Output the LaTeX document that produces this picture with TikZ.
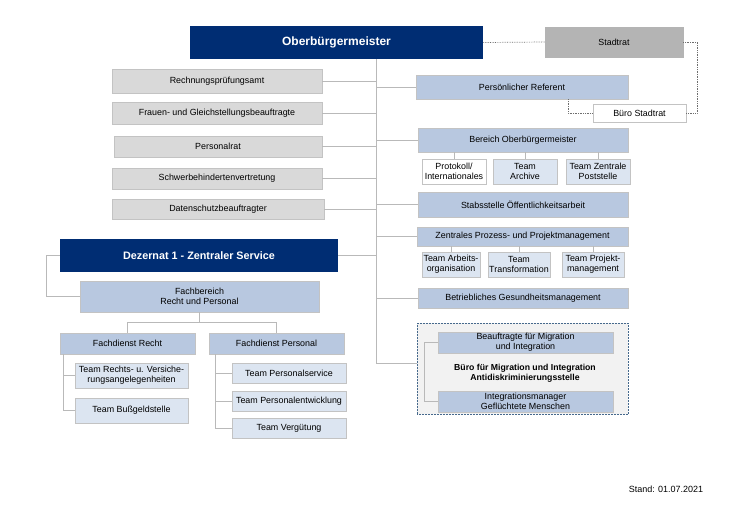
\documentclass[tikz,border=0pt]{standalone}
\usepackage{fontspec}
\setmainfont{Liberation Sans}
\definecolor{navy}{RGB}{0,45,115}
\definecolor{boxblue}{RGB}{184,200,224}
\definecolor{teamblue}{RGB}{220,229,241}
\definecolor{boxgrey}{RGB}{217,217,217}
\definecolor{stgrey}{RGB}{180,180,180}
\definecolor{linegrey}{RGB}{185,185,185}
\definecolor{edgegrey}{RGB}{195,195,195}
\definecolor{contfill}{RGB}{242,242,242}
\definecolor{contedge}{RGB}{70,105,140}
\definecolor{dotgrey}{RGB}{110,110,110}
\newcommand{\bx}[7]{\node[#1, minimum width={#5-#3}, minimum height={#6-#4}] (#2) at ({(#3+#5)/2},{(#4+#6)/2}) {#7};}
\begin{document}
\begin{tikzpicture}[x=1pt,y=-1pt,
  base/.style={inner sep=0pt, align=center, font=\fontsize{8.9}{10.2}\selectfont, line width=0.5pt},
  dark/.style={base, fill=navy, text=white},
  greybox/.style={base, fill=boxgrey, draw=edgegrey},
  stbox/.style={base, fill=stgrey, draw=stgrey},
  bluebox/.style={base, fill=boxblue, draw=edgegrey},
  teambox/.style={base, fill=teamblue, draw=edgegrey},
  whitebox/.style={base, fill=white, draw=edgegrey},
  contbox/.style={base, fill=contfill, draw=contedge, densely dotted, line width=0.8pt},
  conn/.style={draw=linegrey, line width=0.6pt},
  dotline/.style={draw=dotgrey, densely dotted, line width=0.7pt}]
\useasboundingbox[fill=white] (0,0) rectangle (740,523);
% container first (background)
\bx{contbox}{cont}{417}{323}{628}{414}{}
% top
\bx{dark, font=\fontsize{12}{14}\selectfont\bfseries}{ob}{190}{26}{483}{59}{Oberbürgermeister}
\bx{stbox}{st}{545}{27}{683}{57}{Stadtrat}
% left staff
\bx{greybox}{rp}{112}{69}{322}{93}{Rechnungsprüfungsamt}
\bx{greybox}{fg}{112}{102}{322}{124}{Frauen- und Gleichstellungsbeauftragte}
\bx{greybox}{pr}{114}{136}{322}{157}{Personalrat}
\bx{greybox}{sb}{112}{168}{322}{189}{Schwerbehindertenvertretung}
\bx{greybox}{ds}{112}{199}{324}{219}{Datenschutzbeauftragter}
% right
\bx{bluebox}{pref}{416}{75}{628}{99}{Persönlicher Referent}
\bx{whitebox}{bst}{593}{104}{686}{122}{Büro Stadtrat}
\bx{bluebox}{bob}{418}{128}{628}{152}{Bereich Oberbürgermeister}
\bx{whitebox}{prot}{422}{159}{486}{184}{Protokoll/\\Internationales}
\bx{teambox}{arch}{493}{159}{557}{184}{Team\\Archive}
\bx{teambox}{post}{566}{159}{630}{184}{Team Zentrale\\Poststelle}
\bx{bluebox}{stab}{418}{192}{628}{217}{Stabsstelle Öffentlichkeitsarbeit}
\bx{bluebox}{zpp}{417}{227}{628}{246}{Zentrales Prozess- und Projektmanagement}
\bx{teambox}{arb}{422}{252}{480}{277}{Team Arbeits-\\organisation}
\bx{teambox}{trans}{488}{252}{550}{277}{Team\\Transformation}
\bx{teambox}{proj}{562}{252}{624}{277}{Team Projekt-\\management}
\bx{bluebox}{bgm}{418}{288}{628}{308}{Betriebliches Gesundheitsmanagement}
\bx{bluebox}{bmi}{438}{332}{613}{353}{Beauftragte für Migration\\und Integration}
\bx{bluebox}{imgr}{438}{391}{613}{412}{Integrationsmanager\\Geflüchtete Menschen}
\node[base, font=\fontsize{8.7}{10.2}\selectfont\bfseries] (bmlabel) at (525,373) {Büro für Migration und Integration\\Antidiskriminierungsstelle};
% Dezernat
\bx{dark, font=\fontsize{10.8}{13}\selectfont\bfseries}{dez}{60}{239}{338}{272}{Dezernat 1 - Zentraler Service}
\bx{bluebox}{fb}{80}{281}{319}{312}{Fachbereich\\Recht und Personal}
\bx{bluebox}{fdr}{60}{333}{195}{354}{Fachdienst Recht}
\bx{bluebox}{fdp}{209}{333}{344}{354}{Fachdienst Personal}
\bx{teambox}{trv}{75}{363}{188}{388}{Team Rechts- u. Versiche-\\rungsangelegenheiten}
\bx{teambox}{tbg}{75}{398}{188}{423}{Team Bußgeldstelle}
\bx{teambox}{tps}{232}{363}{346}{383}{Team Personalservice}
\bx{teambox}{tpe}{232}{391}{346}{411}{Team Personalentwicklung}
\bx{teambox}{tvg}{232}{418}{346}{438}{Team Vergütung}
\node[base, font=\fontsize{9}{10}\selectfont] (stand) at (666,489) {Stand: 01.07.2021};
% trunk
\coordinate (tr) at (376,363);
\draw[conn] (ob.south -| tr) -- (tr);
\foreach \n in {rp,fg,pr,sb,ds,dez} \draw[conn] (\n.east) -- (\n.east -| tr);
\foreach \n in {pref,bob,stab,zpp,bgm} \draw[conn] (\n.west -| tr) -- (\n.west);
\draw[conn] (tr) -- (tr -| cont.west);
% sub connectors
\foreach \n in {prot,arch,post} \draw[conn] (bob.south -| \n.north) -- (\n.north);
\foreach \n in {arb,trans,proj} \draw[conn] (zpp.south -| \n.north) -- (\n.north);
\draw[conn] (bmi.west) -- ++(-13,0) |- (imgr.west);
\draw[conn] (dez.west) -- ++(-13,0) |- (fb.west);
\draw[conn] (fb.south) -- ++(0,10) coordinate (fbj);
\draw[conn] (fdr.north) |- (fbj) -| (fdp.north);
\draw[conn] ([xshift=4]fdr.south west) |- (trv.west);
\draw[conn] ([xshift=4]fdr.south west) |- (tbg.west);
\foreach \n in {tps,tpe,tvg} \draw[conn] ([xshift=7]fdp.south west) |- (\n.west);
% dotted
\draw[dotline] (ob.east) -- (st.west);
\draw[dotline] (st.east) -- ++(14,0) |- (bst.east);
\draw[dotline] ([xshift=46]pref.south) |- (bst.west);
\end{tikzpicture}
\end{document}
